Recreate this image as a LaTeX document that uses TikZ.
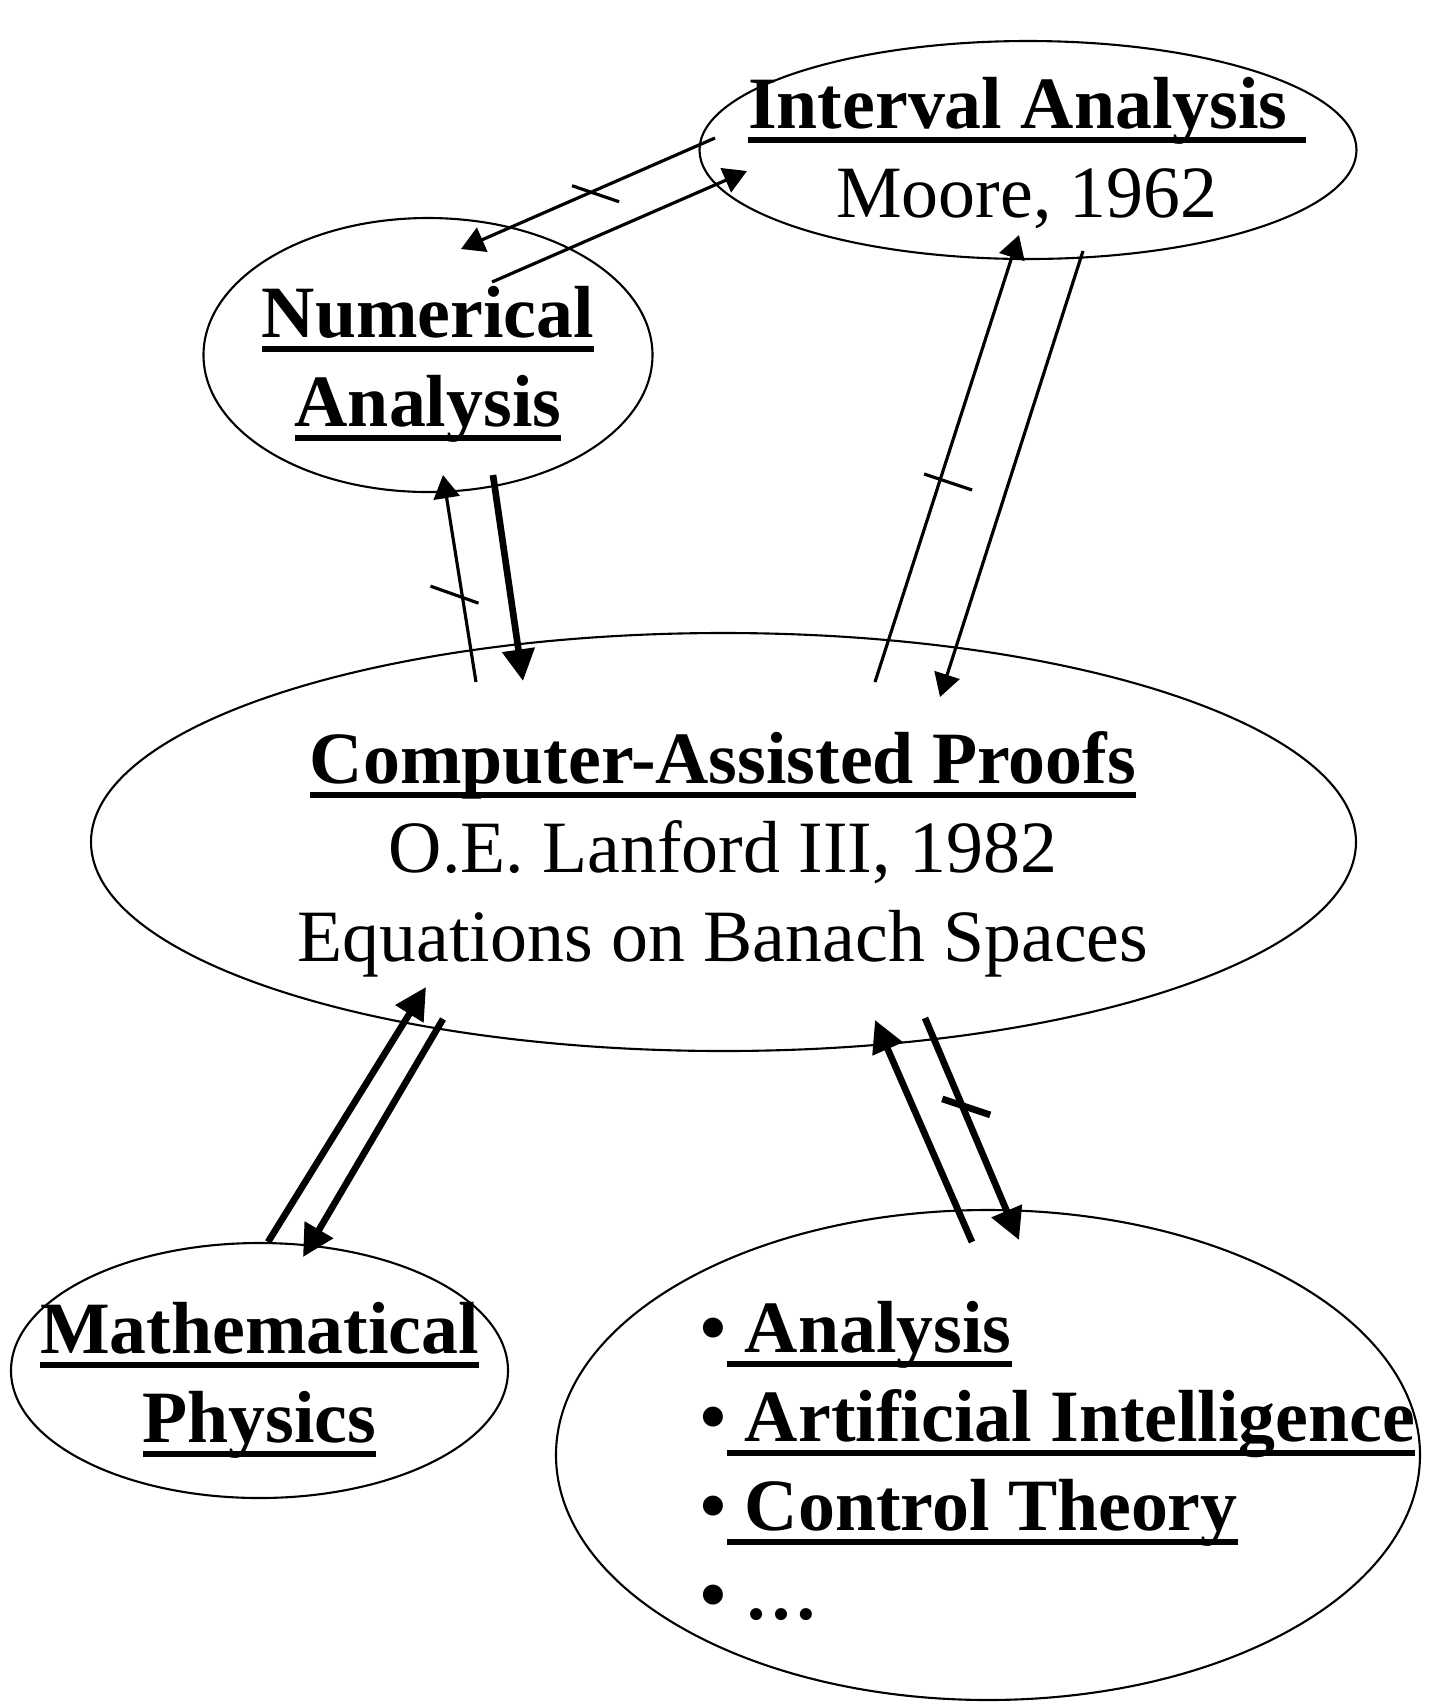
\documentclass[tikz,border=0pt]{standalone}
\usepackage{fontspec}
\setmainfont{Liberation Serif}
\usetikzlibrary{shapes.geometric,arrows.meta}
\newcommand{\undl}[1]{\leavevmode\setbox0=\hbox{#1}\rlap{\rule[-4pt]{\wd0}{1.7pt}}\box0}

\begin{document}
\begin{tikzpicture}[
  oval/.style={draw, ellipse, line width=0.6pt, inner sep=0pt},
  txt/.style={align=center, inner sep=0pt, font=\fontsize{21}{25.3}\selectfont\bfseries},
  thinarrow/.style={line width=0.9pt, -{Triangle[length=6.6pt,width=7.4pt]}},
  thickarrow/.style={line width=1.9pt, -{Triangle[length=9pt,width=9pt]}},
  thintick/.style={line width=0.9pt},
  thicktick/.style={line width=1.9pt}]
\useasboundingbox (0cm,0cm) rectangle (14.34cm,-17.02cm);

\node [oval, minimum width=6.57cm, minimum height=2.18cm] (ia) at (10.28cm,-1.50cm) {};
\node [oval, minimum width=4.49cm, minimum height=2.74cm] (na) at (4.28cm,-3.55cm) {};
\node [oval, minimum width=12.65cm, minimum height=4.18cm] (cap) at (7.235cm,-8.42cm) {};
\node [oval, minimum width=4.97cm, minimum height=2.55cm] (mp) at (2.595cm,-13.705cm) {};
\node [oval, minimum width=8.64cm, minimum height=4.90cm] (app) at (9.88cm,-14.55cm) {};

\node [txt] (ia-t) at (10.27cm,-1.535cm) {\undl{Interval Analysis\ }\\ \mdseries Moore, 1962};
\node [txt] (na-t) at (4.28cm,-3.645cm) {\undl{Numerical}\\ \undl{Analysis}};
\node [txt] (cap-t) at (7.23cm,-8.545cm) {\undl{Computer-Assisted Proofs}\\ \mdseries O.E. Lanford III, 1982\\ \mdseries Equations on Banach Spaces};
\node [txt] (mp-t) at (2.595cm,-13.805cm) {\undl{Mathematical}\\ \undl{Physics}};
\node [txt, align=left, anchor=west] (app-t) at (7.00cm,-14.61cm) {•\undl{\ Analysis}\\ •\undl{\ Artificial Intelligence}\\ •\undl{\ Control Theory}\\ • …};

\coordinate (ia1) at (7.15cm,-1.38cm);
\coordinate (na1) at (4.61cm,-2.49cm);
\coordinate (na2) at (4.92cm,-2.82cm);
\coordinate (ia2) at (7.47cm,-1.71cm);
\coordinate (cap1) at (4.76cm,-6.82cm);
\coordinate (na3) at (4.43cm,-4.75cm);
\coordinate (na4) at (4.93cm,-4.75cm);
\coordinate (cap2) at (5.23cm,-6.81cm);
\coordinate (cap3) at (8.75cm,-6.82cm);
\coordinate (ia3) at (10.19cm,-2.35cm);
\coordinate (ia4) at (10.83cm,-2.51cm);
\coordinate (cap4) at (9.40cm,-6.97cm);
\coordinate (mp1) at (2.68cm,-12.42cm);
\coordinate (cap5) at (4.26cm,-9.87cm);
\coordinate (cap6) at (4.43cm,-10.19cm);
\coordinate (mp2) at (3.03cm,-12.57cm);
\coordinate (app1) at (9.72cm,-12.42cm);
\coordinate (cap7) at (8.75cm,-10.20cm);
\coordinate (cap8) at (9.25cm,-10.18cm);
\coordinate (app2) at (10.19cm,-12.40cm);

\draw [thinarrow] (ia1) -- coordinate[pos=0.484] (k1) (na1);
\draw [thinarrow] (na2) -- (ia2);
\draw [thinarrow] (cap1) -- coordinate[pos=0.41] (k2) (na3);
\draw [thickarrow] (na4) -- (cap2);
\draw [thinarrow] (cap3) -- coordinate[pos=0.452] (k3) (ia3);
\draw [thinarrow] (ia4) -- (cap4);
\draw [thickarrow] (mp1) -- (cap5);
\draw [thickarrow] (cap6) -- (mp2);
\draw [thickarrow] (app1) -- (cap7);
\draw [thickarrow] (cap8) -- coordinate[pos=0.396] (k4) (app2);

\draw [thintick] (k1) ++(-0.20cm,0.06cm) -- ++(0.47cm,-0.16cm);
\draw [thintick] (k2) ++(-0.32cm,0.11cm) -- ++(0.48cm,-0.17cm);
\draw [thintick] (k3) ++(-0.16cm,0.06cm) -- ++(0.48cm,-0.16cm);
\draw [thicktick] (k4) ++(-0.20cm,0.07cm) -- ++(0.48cm,-0.16cm);

\end{tikzpicture}
\end{document}
